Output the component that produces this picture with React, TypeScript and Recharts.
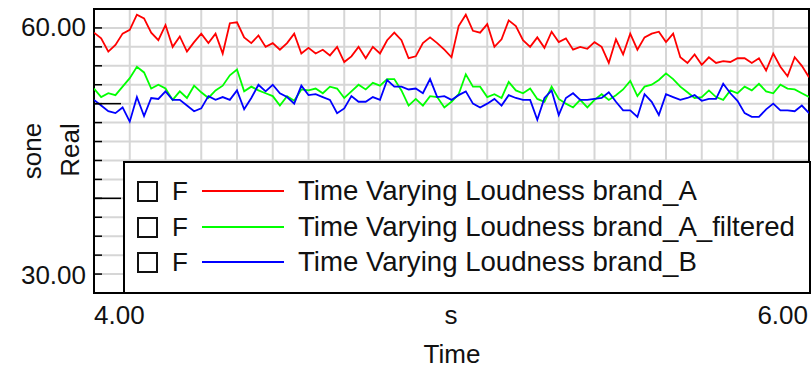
import { LineChart, Line, XAxis, YAxis, CartesianGrid, ReferenceArea } from 'recharts';

// loudness samples, one every 20 ms starting at 4.00 s (sone)
const T0 = 4.0;
const DT = 0.02;

const brandA = [
  57.5, 56.9, 55.5, 56.2, 57.4, 57.8, 59.4, 59.0, 57.5, 56.7,
  58.3, 56.0, 57.1, 55.5, 56.5, 57.4, 56.4, 57.4, 55.3, 58.5,
  58.6, 57.0, 56.4, 57.2, 56.0, 56.4, 55.7, 56.4, 57.4, 55.3,
  55.9, 55.3, 55.7, 55.1, 56.0, 54.4, 55.0, 56.0, 54.8, 56.0,
  55.3, 56.7, 57.5, 56.7, 54.8, 55.0, 56.4, 57.0, 56.4, 55.7,
  54.9, 58.2, 59.4, 57.7, 57.5, 58.4, 56.0, 56.8, 58.8, 58.2,
  56.7, 56.0, 57.0, 55.9, 57.6, 56.5, 56.9, 55.7, 56.0, 55.8,
  56.5, 56.0, 54.3, 56.8, 55.2, 57.4, 55.7, 57.0, 57.4, 57.6,
  56.5, 57.4, 54.9, 54.3, 55.2, 54.1, 54.9, 54.3, 54.5, 54.4,
  54.8, 54.8, 54.3, 54.8, 53.5, 55.3, 53.9, 52.9, 54.9, 54.0,
  52.8,
];

const brandAFiltered = [
  51.6, 50.7, 51.1, 50.9, 51.8, 52.7, 53.9, 53.3, 51.6, 52.0,
  51.6, 50.4, 51.3, 50.6, 51.9, 51.2, 50.6, 51.4, 51.9, 53.0,
  53.6, 51.3, 51.8, 51.4, 51.1, 50.8, 49.8, 50.8, 50.3, 51.5,
  51.4, 51.6, 51.1, 51.8, 51.6, 50.6, 51.3, 52.0, 51.5, 52.2,
  51.9, 52.6, 52.6, 51.4, 49.8, 50.5, 49.8, 50.8, 50.7, 49.6,
  50.2, 51.0, 53.1, 51.8, 51.8, 50.7, 51.0, 50.6, 52.3, 51.4,
  51.1, 51.6, 50.5, 50.2, 51.8, 50.5, 50.0, 49.6, 50.4, 49.6,
  50.4, 51.0, 50.4, 50.9, 51.5, 52.4, 50.8, 51.8, 52.0, 52.5,
  53.2, 52.6, 51.8, 51.2, 50.6, 50.7, 51.4, 50.7, 50.4, 51.4,
  51.1, 51.8, 51.4, 52.1, 51.3, 51.1, 52.0, 51.6, 51.5, 51.1,
  50.7,
];

const brandB = [
  50.4, 49.8, 49.2, 49.0, 49.6, 48.1, 50.7, 48.7, 50.6, 50.5,
  51.3, 50.4, 50.4, 49.8, 49.2, 49.5, 50.8, 50.4, 50.7, 50.4,
  51.4, 49.4, 50.6, 52.0, 51.3, 52.0, 51.1, 50.7, 50.0, 51.9,
  50.9, 51.0, 50.7, 50.4, 49.0, 49.5, 50.8, 50.2, 50.2, 50.7,
  50.4, 52.5, 51.8, 51.8, 51.5, 51.6, 51.1, 52.6, 50.7, 50.8,
  50.4, 50.9, 51.3, 50.0, 49.6, 50.0, 50.5, 49.8, 50.9, 50.6,
  50.4, 50.4, 48.3, 50.6, 51.4, 48.8, 50.6, 51.1, 50.4, 50.4,
  50.5, 50.6, 51.2, 50.2, 49.3, 49.3, 48.6, 51.0, 50.2, 48.8,
  51.0, 50.7, 50.4, 50.6, 50.9, 50.3, 50.5, 50.5, 52.1, 51.1,
  50.3, 49.0, 48.6, 48.6, 49.4, 50.0, 49.3, 49.3, 49.2, 49.8,
  49.0,
];

const seriesNames = [
  'Time Varying Loudness brand_A',
  'Time Varying Loudness brand_A_filtered',
  'Time Varying Loudness brand_B',
];

const yTicks = [30, 32, 34, 36, 38, 40, 42, 44, 46, 48, 50, 52, 54, 56, 58, 60];
const yMajorTicks = [40, 50];
const xGridTicks = [
  4.0, 4.1, 4.2, 4.3, 4.4, 4.5, 4.6, 4.7, 4.8, 4.9, 5.0,
  5.1, 5.2, 5.3, 5.4, 5.5, 5.6, 5.7, 5.8, 5.9, 6.0,
];

const chartData = brandA.map((v, i) => ({
  t: +(T0 + i * DT).toFixed(2),
  a: v,
  af: brandAFiltered[i],
  b: brandB[i],
}));

const series = [
  { key: 'a', color: '#ff0000' },
  { key: 'af', color: '#00ff00' },
  { key: 'b', color: '#0000ff' },
];

const FONT = '"Liberation Sans", Arial, sans-serif';
const txt = { position: 'absolute' as const, fontFamily: FONT, fontSize: 26, lineHeight: '26px', color: '#111', whiteSpace: 'nowrap' as const };

// axis keeps its tick marks but prints no numbers at them
const NoLabel = () => <g />;

function VText({ text, cx, cy }: { text: string; cx: number; cy: number }) {
  return (
    <div style={{ ...txt, left: cx - 40, top: cy - 13, width: 80, height: 26, textAlign: 'center', transform: 'rotate(-90deg)' }}>
      {text}
    </div>
  );
}

function LegendBox() {
  const rowY = [191, 227, 262];
  return (
    <>
      <div style={{ position: 'absolute', left: 123, top: 161, width: 688, height: 133, boxSizing: 'border-box', border: '2px solid #000', background: '#fff' }} />
      {series.map((s, i) => (
        <div key={s.key}>
          <div style={{ position: 'absolute', left: 137, top: rowY[i] - 10, width: 21, height: 21, boxSizing: 'border-box', border: '2px solid #111' }} />
          <div style={{ ...txt, left: 172, top: rowY[i] - 13 }}>F</div>
          <div style={{ position: 'absolute', left: 202, top: rowY[i] - 1, width: 82, height: 2, background: s.color }} />
          <div style={{ ...txt, fontSize: 27.6, lineHeight: '28px', left: 298, top: rowY[i] - 14 }}>{seriesNames[i]}</div>
        </div>
      ))}
    </>
  );
}

export default function App() {
  return (
    <div style={{ position: 'absolute', left: 0, top: 0, width: 811, height: 369, background: '#fff', overflow: 'hidden' }}>
      <LineChart width={811} height={369} data={chartData} margin={{ top: 9, right: 2, bottom: 76, left: 94 }}>
        <CartesianGrid stroke="#d6d6d6" strokeWidth={2} horizontalValues={yTicks} verticalValues={xGridTicks} />
        <XAxis dataKey="t" type="number" domain={[4, 6]} ticks={xGridTicks} hide allowDataOverflow />
        <YAxis
          domain={[30, 60]}
          ticks={yTicks}
          interval={0}
          mirror
          width={1}
          tickSize={8}
          tick={NoLabel}
          axisLine={false}
          tickLine={{ stroke: '#000', strokeWidth: 1.5 }}
          allowDataOverflow
        />
        <YAxis
          yAxisId="major"
          domain={[30, 60]}
          ticks={yMajorTicks}
          interval={0}
          mirror
          width={1}
          tickSize={26}
          tick={NoLabel}
          axisLine={false}
          tickLine={{ stroke: '#000', strokeWidth: 1.5 }}
          allowDataOverflow
        />
        {series.map((s) => (
          <Line key={s.key} type="linear" dataKey={s.key} stroke={s.color} strokeWidth={1.8} dot={false} isAnimationActive={false} />
        ))}
        <ReferenceArea x1={4} x2={6} y1={30} y2={60} fill="none" stroke="#000" strokeWidth={2} ifOverflow="visible" />
      </LineChart>

      <LegendBox />

      <div style={{ ...txt, left: 0, width: 86, top: 14, textAlign: 'right' }}>60.00</div>
      <div style={{ ...txt, left: 0, width: 86, top: 262, textAlign: 'right' }}>30.00</div>
      <div style={{ ...txt, left: 94, top: 302 }}>4.00</div>
      <div style={{ ...txt, left: 700, width: 108, top: 302, textAlign: 'right' }}>6.00</div>
      <div style={{ ...txt, left: 411, width: 80, top: 302, textAlign: 'center' }}>s</div>
      <div style={{ ...txt, left: 402, width: 100, top: 341, textAlign: 'center' }}>Time</div>
      <VText text="sone" cx={32} cy={151} />
      <VText text="Real" cx={70} cy={150} />
    </div>
  );
}
